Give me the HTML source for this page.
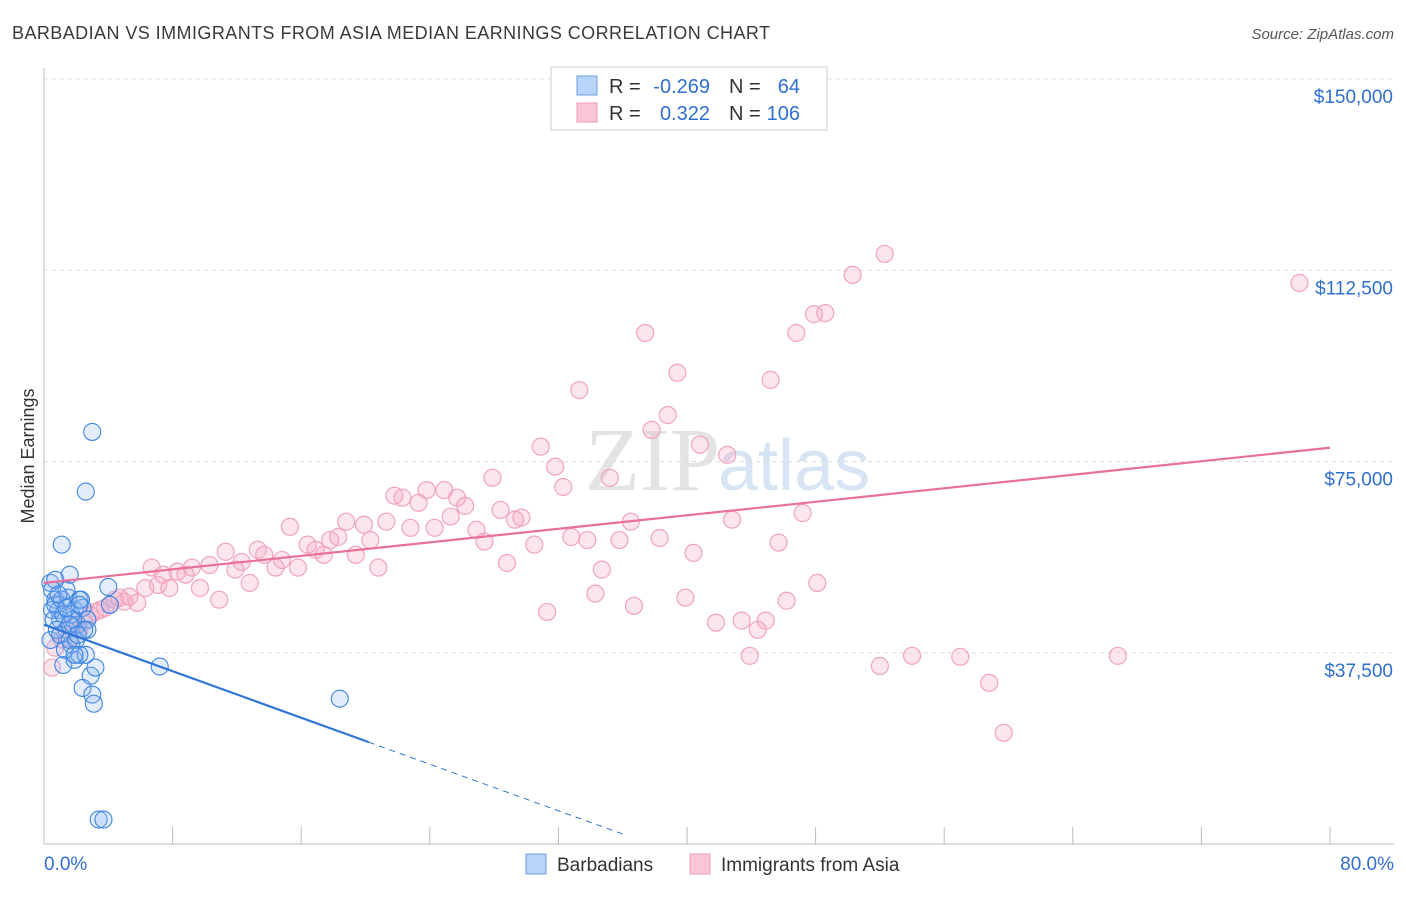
<!DOCTYPE html>
<html><head><meta charset="utf-8"><style>
body{margin:0;background:#fff;font-family:"Liberation Sans",sans-serif;}
</style></head><body>
<svg id="chart" width="1406" height="892" xmlns="http://www.w3.org/2000/svg" font-family="Liberation Sans, sans-serif">
<text x="12" y="39" font-size="18" fill="#3a3a3a" textLength="758">BARBADIAN VS IMMIGRANTS FROM ASIA MEDIAN EARNINGS CORRELATION CHART</text>
<text x="1394" y="39" font-size="15" fill="#555" text-anchor="end" font-style="italic">Source: ZipAtlas.com</text>
<text x="720" y="490" font-size="90" fill="#e3e3e6" text-anchor="end" font-family="Liberation Serif, serif">ZIP</text>
<text x="718" y="490" font-size="72" fill="#d6e4f4">atlas</text>
<text transform="translate(34,456) rotate(-90)" font-size="18" fill="#333" text-anchor="middle">Median Earnings</text>
<g id="grid"></g><g id="axes"></g><g id="pts"></g><g id="trend"></g>
<g>
<rect x="551" y="67" width="276" height="63" fill="#fff" stroke="#ccc"/>
<rect x="577" y="76" width="20" height="19" fill="#b8d4f8" stroke="#6a9fe0"/>
<rect x="577" y="103" width="20" height="19" fill="#f9c6d6" stroke="#ee9ab6"/>
<text x="609" y="93" font-size="20" fill="#333">R =</text>
<text x="710" y="93" font-size="20" fill="#2f6fd0" text-anchor="end">-0.269</text>
<text x="729" y="93" font-size="20" fill="#333">N =</text>
<text x="800" y="93" font-size="20" fill="#2f6fd0" text-anchor="end">64</text>
<text x="609" y="120" font-size="20" fill="#333">R =</text>
<text x="710" y="120" font-size="20" fill="#2f6fd0" text-anchor="end">0.322</text>
<text x="729" y="120" font-size="20" fill="#333">N =</text>
<text x="800" y="120" font-size="20" fill="#2f6fd0" text-anchor="end">106</text>
</g>
<g>
<rect x="526" y="854" width="20" height="20" fill="#b8d4f8" stroke="#6a9fe0"/>
<text x="557" y="871" font-size="19" fill="#333">Barbadians</text>
<rect x="690" y="854" width="20" height="20" fill="#f9c6d6" stroke="#ee9ab6"/>
<text x="721" y="871" font-size="19" fill="#333">Immigrants from Asia</text>
</g>
</svg>
<script>
const yTicks=[37500,75000,112500,150000];
const yTickLabels=["$37,500","$75,000","$112,500","$150,000"];
const xTicks=[0,8,16,24,32,40,48,56,64,72,80];
const xEndLabels=["0.0%","80.0%"];
const pinkX=[0.5,0.7,1.1,1.6,1.9,2.2,2.5,2.9,3.2,3.5,3.8,4.1,4.4,4.7,5.0,5.3,5.8,6.3,6.7,7.1,7.4,7.8,8.3,8.8,9.2,9.7,10.3,10.9,11.3,11.9,12.3,12.8,13.3,13.7,14.4,14.8,15.3,15.8,16.4,16.9,17.4,17.8,18.3,18.8,19.4,19.9,20.3,20.8,21.3,21.8,22.3,22.8,23.3,23.8,24.3,24.9,25.3,25.7,26.2,26.9,27.4,27.9,28.4,28.8,29.3,29.7,30.5,30.9,31.3,31.8,32.3,32.8,33.3,33.8,34.3,34.7,35.2,35.8,36.5,36.7,37.4,37.8,38.3,38.8,39.4,39.9,40.4,40.8,41.8,42.5,42.8,43.4,43.9,44.4,44.9,45.2,45.7,46.2,46.8,47.2,47.9,48.1,48.6,50.3,52.0,52.3,54.0,57.0,58.8,59.7,66.8,78.1];
const pinkY=[34.6,38.5,40.1,40.4,43.0,42.0,43.6,44.9,45.5,45.9,46.3,46.9,47.9,48.3,47.5,48.5,47.3,50.2,54.2,50.8,52.8,50.2,53.4,52.8,54.2,50.2,54.7,47.9,57.3,53.8,55.3,51.2,57.7,56.7,54.2,55.7,62.2,54.2,58.7,57.7,56.7,59.6,60.2,63.2,56.7,62.6,59.6,54.2,63.2,68.3,67.9,62.0,66.9,69.4,62.0,69.4,64.2,67.9,66.3,61.6,59.3,71.8,65.5,55.1,63.6,64.0,58.7,77.9,45.5,74.0,70.0,60.2,89.0,59.6,49.1,53.8,71.8,59.6,63.2,46.7,100.2,81.2,60.0,84.1,92.4,48.3,57.1,78.3,43.4,76.3,63.6,43.8,36.9,42.0,43.8,91.0,59.1,47.7,100.2,64.9,103.9,51.2,104.1,111.6,34.9,115.7,36.9,36.7,31.6,21.8,36.9,110.0];
const blueX=[0.4,0.5,0.7,0.9,1.0,1.1,1.2,1.4,1.5,1.6,1.7,1.9,1.9,2.1,2.2,2.4,2.4,2.6,2.6,2.7,2.7,2.9,3.0,3.0,3.1,3.2,3.4,3.7,4.0,4.1,7.2,18.4,0.4,0.5,0.6,0.7,0.8,1.0,1.1,1.3,1.4,1.6,1.7,1.8,2.0,2.2,2.3,2.5,0.7,0.9,1.2,1.4,1.6,1.9,2.1,2.2];
const blueY=[51.2,49.8,47.9,45.9,44.0,58.7,35.1,42.0,48.3,52.8,39.1,36.1,45.9,43.0,47.9,46.3,30.6,69.1,37.1,44.0,42.0,33.0,29.3,80.8,27.5,34.6,4.8,4.8,50.4,46.9,34.8,28.5,40.0,45.9,44.0,46.9,42.0,41.0,47.9,38.1,49.8,40.0,45.0,44.0,40.0,37.1,47.9,42.0,51.8,48.9,45.0,46.3,43.0,37.1,41.0,46.9];
const pinkTrend=[51.2,77.7];
const blueTrend=[43.0,-1.14];
const NS="http://www.w3.org/2000/svg";
const X=p=>44+p/80*1286;
const Y=v=>844-v/150000*765;
function mk(parent,tag,attrs){const e=document.createElementNS(NS,tag);for(const k in attrs)e.setAttribute(k,attrs[k]);document.getElementById(parent).appendChild(e);return e;}
yTicks.forEach((t,i)=>{
 const g=mk('grid','line',{x1:44,x2:1394,y1:Y(t),y2:Y(t),stroke:'#ddd','stroke-dasharray':'4,4'});
 
 
 const l=mk('axes','text',{x:1393,y:Y(t)+24,'font-size':19,fill:'#2f6fd0','text-anchor':'end'});
 l.textContent=yTickLabels[i];
 
 
});
const ax=mk('axes','line',{x1:44,x2:44,y1:68,y2:844,stroke:'#bbb'});


const bx=mk('axes','line',{x1:44,x2:1394,y1:844,y2:844,stroke:'#bbb'});


xTicks.forEach(t=>{
 const k=mk('axes','line',{x1:X(t),x2:X(t),y1:827,y2:844,stroke:'#bbb'});
 
 
});
const xl0=mk('axes','text',{x:44,y:870,'font-size':19,fill:'#2f6fd0'});xl0.textContent=xEndLabels[0];


const xl1=mk('axes','text',{x:1394,y:870,'font-size':19,fill:'#2f6fd0','text-anchor':'end'});xl1.textContent=xEndLabels[1];


pinkX.forEach((x,i)=>{
 const c=mk('pts','circle',{cx:X(x),cy:Y(pinkY[i]*1000),r:8.5,fill:'rgba(247,170,196,0.3)',stroke:'#f0a3bd','stroke-width':1.2});
 
 
});
blueX.forEach((x,i)=>{
 const c=mk('pts','circle',{cx:X(x),cy:Y(blueY[i]*1000),r:8.5,fill:'rgba(140,180,240,0.25)',stroke:'#3d86e0','stroke-width':1.1});
 
 
});
const pt=mk('trend','line',{x1:X(0),y1:Y(pinkTrend[0]*1000),x2:X(80),y2:Y(pinkTrend[1]*1000),stroke:'#e8709a','stroke-width':2.2});


const bY=p=>(blueTrend[0]+blueTrend[1]*p)*1000;
const bt=mk('trend','line',{x1:X(0),y1:Y(bY(0)),x2:X(20.2),y2:Y(bY(20.2)),stroke:'#2f74d8','stroke-width':2.2});


const bd=mk('trend','line',{x1:X(20.2),y1:Y(bY(20.2)),x2:X(36.2),y2:Y(bY(36.2)),stroke:'#2f74d8','stroke-width':1,'stroke-dasharray':'6,5'});


</script>
</body></html>
